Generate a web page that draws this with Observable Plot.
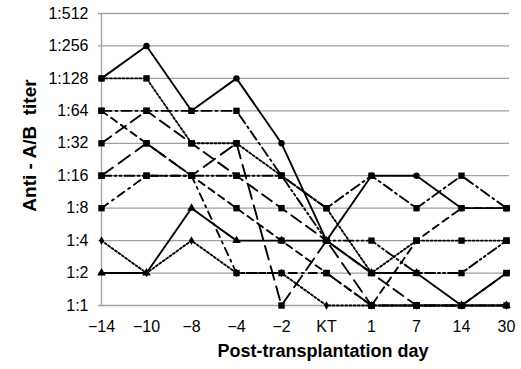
<!DOCTYPE html>
<html><head><meta charset="utf-8">
<script src="https://cdn.jsdelivr.net/npm/d3@7"></script>
<script src="https://cdn.jsdelivr.net/npm/@observablehq/plot@0.6"></script>
<style>
body{margin:0;background:#fff}
#chart svg{font-family:"Liberation Sans",Arial,sans-serif}
</style>
</head><body><div id="chart"></div>
<script>
// Categories (x) and titer ticks (y)
const days = ["−14","−10","−8","−4","−2","KT","1","7","14","30"];
const titerTicks = [1,2,4,8,16,32,64,128,256,512];

// Series values: titer denominators (1:n) at each day
const patientA = [128,256,64,128,32,4,16,16,8,8];
const patientB = [128,128,32,32,16,8,2,4,4,4];
const patientC = [64,64,64,64,16,8,16,8,16,8];
const patientD = [64,32,16,8,4,2,1,4,8,8];
const patientE = [32,64,32,16,8,4,2,1,1,2];
const patientF = [16,16,16,16,16,4,4,2,2,4];
const patientG = [16,32,16,32,1,4,1,1,1,2];
const patientH = [8,16,16,2,2,2,1,1,1,1];
const patientI = [4,2,4,2,2,1,1,1,1,1];
const patientJ = [2,2,8,4,4,4,2,2,1,1];

const xTitle = "Post-transplantation day";
const yTitle = "Anti - A/B  titer";

// Styles per series
const series = [
  {id:"A", values:patientA, dash:null,            symbol:"circle",  r:3.2},
  {id:"B", values:patientB, dash:"2,2.2",         symbol:"square",  r:3.6},
  {id:"C", values:patientC, dash:"10,4,2,4",      symbol:"square",  r:3.6},
  {id:"D", values:patientD, dash:"7,5",           symbol:"square",  r:3.6},
  {id:"E", values:patientE, dash:"12,6",          symbol:"square",  r:3.6},
  {id:"F", values:patientF, dash:"10,3,2,3,2,3",  symbol:"square",  r:3.6},
  {id:"G", values:patientG, dash:"14,7",          symbol:"square",  r:3.6},
  {id:"H", values:patientH, dash:"8,5,2,5",       symbol:"square",  r:3.6},
  {id:"I", values:patientI, dash:"2,2.2",         symbol:"diamond", r:2.6},
  {id:"J", values:patientJ, dash:null,            symbol:"triangle",r:3.2}
];

const marks = [
  Plot.gridY(titerTicks, {stroke:"#a0a0a0", strokeOpacity:1, strokeWidth:1.3}),
  Plot.ruleX([days[0]], {stroke:"#a0a0a0", strokeWidth:1.3})
];
for (const s of series) {
  const rows = days.map((d,i) => ({day:d, titer:s.values[i]}));
  marks.push(Plot.line(rows, {x:"day", y:"titer", stroke:"#000", strokeWidth:1.9,
    strokeDasharray: s.dash || undefined}));
}
for (const s of series) {
  const rows = days.map((d,i) => ({day:d, titer:s.values[i]}));
  marks.push(Plot.dot(rows, {x:"day", y:"titer", symbol:s.symbol, r:s.r, fill:"#000", stroke:"none"}));
}
marks.push(Plot.text([xTitle], {frameAnchor:"bottom", dx:19, dy:51, fontWeight:"bold", fontSize:18, fill:"#000"}));
marks.push(Plot.text([yTitle], {frameAnchor:"left", textAnchor:"middle", lineAnchor:"middle", dx:-69, dy:-14, rotate:-90, fontWeight:"bold", fontSize:19, fill:"#000"}));

const chart = Plot.plot({
  width:521, height:369,
  marginLeft:98, marginRight:12, marginTop:13, marginBottom:64,
  style:{fontFamily:"Liberation Sans, Arial, sans-serif", fontSize:"16px", color:"#000", background:"#fff", overflow:"visible"},
  x:{type:"point", domain:days, padding:0, label:null, tickSize:0, tickPadding:15},
  y:{type:"log", base:2, domain:[1,512], ticks:titerTicks, tickFormat:d => "1:" + d, label:null, tickSize:0, tickPadding:10},
  marks
});
document.getElementById("chart").appendChild(chart);
</script>
</body></html>
